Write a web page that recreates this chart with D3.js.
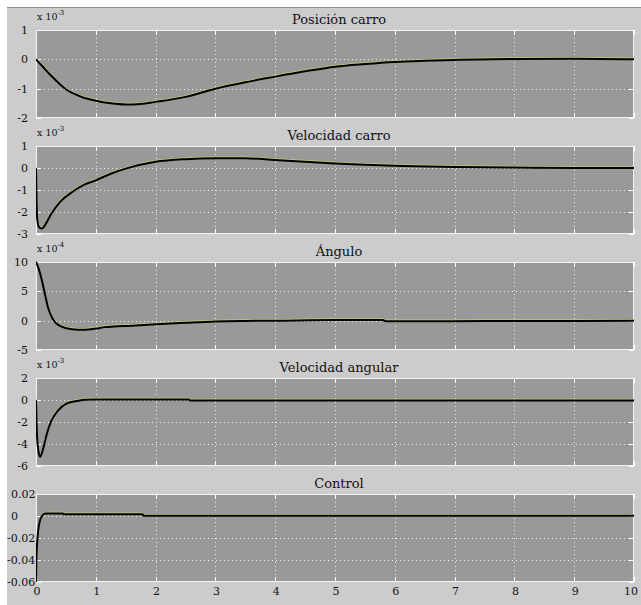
<!DOCTYPE html>
<html>
<head>
<meta charset="utf-8">
<script src="https://cdn.jsdelivr.net/npm/d3@7"></script>
<style>
    html, body { margin: 0; padding: 0; background: #ffffff; }
    svg { display: block; }
    svg text { font-family: 'DejaVu Serif', 'Liberation Serif', serif; fill: #111111; }
</style>
</head>
<body>
<script>
// 面板标题与纵轴设置
const titles = ['Posición carro', 'Velocidad carro', 'Ángulo', 'Velocidad angular', 'Control'];
const exponents = ['-3', '-3', '-4', '-3', null];
const yDomains = [[-2, 1], [-3, 1], [-5, 10], [-6, 2], [-0.06, 0.02]];
const yTicks = [
    [-2, -1, 0, 1],
    [-3, -2, -1, 0, 1],
    [-5, 0, 5, 10],
    [-6, -4, -2, 0, 2],
    [-0.06, -0.04, -0.02, 0, 0.02]
];
const xTicks = [0, 1, 2, 3, 4, 5, 6, 7, 8, 9, 10];

// 曲线数据
const tPos = [0, 0.1, 0.25, 0.5, 0.75, 1, 1.25, 1.5, 1.75, 2, 2.5, 3, 3.5, 4, 4.5, 5, 5.5, 6, 6.5, 7, 8, 9, 10];
const yPos = [0, -0.22, -0.55, -1.02, -1.27, -1.41, -1.5, -1.54, -1.52, -1.45, -1.28, -1.0, -0.78, -0.59, -0.41, -0.25, -0.16, -0.09, -0.05, -0.02, 0.01, 0.02, 0];

const tVel = [0, 0.02, 0.05, 0.1, 0.15, 0.25, 0.4, 0.6, 0.8, 1, 1.25, 1.5, 2, 2.5, 3, 3.5, 4, 4.5, 5, 5.5, 6, 7, 8, 9, 10];
const yVel = [0, -2.3, -2.68, -2.75, -2.6, -2.1, -1.55, -1.1, -0.77, -0.56, -0.26, -0.03, 0.28, 0.4, 0.44, 0.44, 0.36, 0.28, 0.21, 0.15, 0.1, 0.05, 0.02, 0, 0];

const tAng = [0, 0.05, 0.1, 0.15, 0.2, 0.28, 0.4, 0.6, 0.8, 1, 1.15, 1.3, 1.6, 2, 2.5, 3, 3.5, 4, 5, 5.8, 5.85, 7, 8, 10];
const yAng = [10, 8.7, 6.8, 4.5, 2.3, 0.3, -0.9, -1.45, -1.55, -1.35, -1.1, -1.0, -0.85, -0.6, -0.35, -0.13, -0.04, 0, 0.1, 0.1, -0.1, -0.08, -0.05, -0.03];

const tAngVel = [0, 0.02, 0.05, 0.07, 0.1, 0.14, 0.18, 0.26, 0.37, 0.5, 0.68, 0.82, 1, 2.55, 2.58, 4, 10];
const yAngVel = [0, -3.5, -4.9, -5.15, -4.8, -4.0, -3.1, -1.86, -0.95, -0.35, -0.1, 0.03, 0.05, 0.05, -0.05, -0.05, -0.05];

const tCtrl = [0, 0.005, 0.01, 0.02, 0.035, 0.055, 0.08, 0.1, 0.15, 0.45, 0.47, 1.78, 1.8, 10];
const yCtrl = [-0.06, -0.045, -0.034, -0.024, -0.014, -0.0067, -0.002, 0, 0.0022, 0.0022, 0.0016, 0.0016, 0.0003, 0.0003];

const seriesT = [tPos, tVel, tAng, tAngVel, tCtrl];
const seriesY = [yPos, yVel, yAng, yAngVel, yCtrl];

// 画布参数
const renderParams = {
    svgWidth: 641,
    svgHeight: 605,
    left: 36,
    right: 634,
    firstTop: 30,
    panelHeight: 88,
    panelStep: 116
};

/**
 * 初始化 SVG 画布
 */
const initSVG = (params) => {
    let svg = d3.select('body')
        .append('svg')
        .attr('width', params.svgWidth)
        .attr('height', params.svgHeight);

    // 图形背景
    svg.append('rect')
        .attr('x', 7).attr('y', 7)
        .attr('width', params.svgWidth - 7)
        .attr('height', params.svgHeight - 7)
        .attr('fill', '#cccccc');
    svg.append('line')
        .attr('x1', 7).attr('x2', params.svgWidth)
        .attr('y1', 7.5).attr('y2', 7.5)
        .attr('stroke', '#8c8c8c');
    return svg;
};

/**
 * 绘制单个面板
 */
const renderPanel = (svg, params, i) => {
    let top = params.firstTop + i * params.panelStep;
    let bottom = top + params.panelHeight;
    let x = d3.scaleLinear().domain([0, 10]).range([params.left, params.right]);
    let y = d3.scaleLinear().domain(yDomains[i]).range([bottom, top]);

    let g = svg.append('g').attr('class', 'panel');

    // 坐标区背景
    g.append('rect')
        .attr('x', params.left).attr('y', top)
        .attr('width', params.right - params.left)
        .attr('height', params.panelHeight)
        .attr('fill', '#999999');

    // 网格线（点线）
    g.selectAll('line.vgrid')
        .data(xTicks.slice(1, -1))
        .enter().append('line')
        .attr('class', 'vgrid')
        .attr('x1', d => Math.round(x(d)) + 0.5).attr('x2', d => Math.round(x(d)) + 0.5)
        .attr('y1', top).attr('y2', bottom)
        .attr('stroke', '#eeeeee')
        .attr('stroke-dasharray', '1,3');
    let innerY = yTicks[i].filter(d => d !== yDomains[i][0] && d !== yDomains[i][1]);
    g.selectAll('line.hgrid')
        .data(innerY)
        .enter().append('line')
        .attr('class', 'hgrid')
        .attr('x1', params.left).attr('x2', params.right)
        .attr('y1', d => Math.round(y(d)) + 0.5).attr('y2', d => Math.round(y(d)) + 0.5)
        .attr('stroke', '#eeeeee')
        .attr('stroke-dasharray', '1,3');

    // 刻度线（四边向内）
    let tickLen = 5;
    xTicks.forEach(d => {
        let px = Math.round(x(d)) + 0.5;
        g.append('line').attr('x1', px).attr('x2', px).attr('y1', top).attr('y2', top + tickLen)
            .attr('stroke', '#ffffff');
        g.append('line').attr('x1', px).attr('x2', px).attr('y1', bottom).attr('y2', bottom - tickLen)
            .attr('stroke', '#ffffff');
    });
    yTicks[i].forEach(d => {
        let py = Math.round(y(d)) + 0.5;
        g.append('line').attr('x1', params.left).attr('x2', params.left + tickLen).attr('y1', py).attr('y2', py)
            .attr('stroke', '#ffffff');
        g.append('line').attr('x1', params.right).attr('x2', params.right - tickLen).attr('y1', py).attr('y2', py)
            .attr('stroke', '#ffffff');
    });

    // 坐标区边框
    g.append('rect')
        .attr('x', params.left + 0.5).attr('y', top + 0.5)
        .attr('width', params.right - params.left - 1)
        .attr('height', params.panelHeight - 1)
        .attr('fill', 'none')
        .attr('stroke', '#f4f4f4');

    // 纵轴刻度标签
    let isControl = exponents[i] === null;
    g.selectAll('text.ylab')
        .data(yTicks[i])
        .enter().append('text')
        .attr('class', 'ylab')
        .attr('x', d => isControl ? (d < 0 ? 7 : 11) : 28)
        .attr('y', d => y(d) + 4)
        .attr('text-anchor', isControl ? 'start' : 'end')
        .style('font-size', '11px')
        .text(d => d3.format('~g')(d).replace('−', '-'));

    // 标题
    g.append('text')
        .attr('x', (params.left + params.right) / 2 + 4)
        .attr('y', top - 6)
        .attr('text-anchor', 'middle')
        .style('font-size', '13px')
        .text(titles[i]);

    // 指数标注
    if (exponents[i]) {
        let t = g.append('text')
            .attr('x', params.left + 1)
            .attr('y', top - 10)
            .style('font-size', '9.5px');
        t.append('tspan').text('x 10');
        t.append('tspan').attr('dy', -5).style('font-size', '7px').text(exponents[i]);
    }

    // 曲线
    let pts = seriesT[i].map((t, k) => [t, seriesY[i][k]]);
    let line = d3.line()
        .x(d => x(d[0]))
        .y(d => y(d[1]))
        .curve(d3.curveMonotoneX);
    let clipId = 'clip' + i;
    g.append('clipPath').attr('id', clipId)
        .append('rect')
        .attr('x', params.left).attr('y', top - 1)
        .attr('width', params.right - params.left).attr('height', params.panelHeight + 2);
    let lg = g.append('g').attr('clip-path', `url(#${clipId})`);
    lg.append('path')
        .attr('d', line(pts))
        .attr('transform', 'translate(0,-1)')
        .attr('fill', 'none')
        .attr('stroke', '#c8c87a')
        .attr('stroke-width', 1.5);
    lg.append('path')
        .attr('d', line(pts))
        .attr('fill', 'none')
        .attr('stroke', '#000000')
        .attr('stroke-width', 2);

    // 横轴刻度标签（仅底部面板）
    if (i === titles.length - 1) {
        g.selectAll('text.xlab')
            .data(xTicks)
            .enter().append('text')
            .attr('class', 'xlab')
            .attr('x', d => x(d) + (d === 10 ? -3 : 1))
            .attr('y', bottom + 13)
            .attr('text-anchor', 'middle')
            .style('font-size', '11px')
            .text(d => d);
    }
};

let svg = initSVG(renderParams);
titles.forEach((d, i) => renderPanel(svg, renderParams, i));
</script>
</body>
</html>
